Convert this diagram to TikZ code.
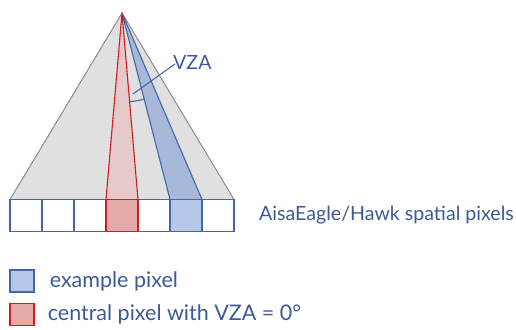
\documentclass[tikz,border=0pt]{standalone}
\usepackage{fontspec}
\setmainfont{Lato}
\usetikzlibrary{positioning}
\definecolor{ink}{HTML}{4466A6}
\definecolor{txt}{HTML}{3D5A96}
\definecolor{cone}{HTML}{E0E0E0}
\definecolor{conegray}{HTML}{858585}
\definecolor{nadir}{HTML}{D01C1C}
\definecolor{nadirwash}{HTML}{E6C9C9}
\definecolor{nadirpix}{HTML}{E4A9A9}
\definecolor{viewwash}{HTML}{A7B9D9}
\definecolor{viewpix}{HTML}{B6C8E8}
\tikzset{cell/.style={draw=ink,line width=1.2pt,minimum width=32pt,minimum height=32pt,inner sep=0pt,outer sep=0pt},
  key/.style={draw,line width=1.2pt,minimum width=24pt,minimum height=22pt,inner sep=0pt},
  lbl/.style={text=txt,font=\fontsize{19.6}{22}\selectfont,inner sep=0pt},
  keylbl/.style={lbl,font=\fontsize{21.5}{24}\selectfont},
  ray/.style={line width=1.1pt,line join=round}}
\begin{document}
\begin{tikzpicture}[x=1pt,y=-1pt]
\useasboundingbox (0,0) rectangle (516,329);
\coordinate (apex) at (122,13);
\foreach \i in {1,...,7} \coordinate (p\i) at ({26+32*(\i-1)},215.5);
% swath
\fill[cone] (apex) -- (10,199.5) -- (234,199.5) -- cycle;
\draw[conegray,line width=0.9pt] (10,199.5) -- (apex) -- (234,199.5);
\fill[viewwash] (apex) -- (170,199.5) -- (202,199.5) -- cycle;
\draw[ray,ink] (170,199.5) -- (apex) -- (202,199.5);
\fill[nadirwash] (apex) -- (106,199.5) -- (138,199.5) -- cycle;
\draw[ray,nadir] (106,199.5) -- (apex) -- (138,199.5);
% pixels
\foreach \i in {1,2,3,5,7} \node[cell] (c\i) at (p\i) {};
\node[cell,fill=viewpix] (c6) at (p6) {};
\node[cell,draw=nadir,fill=nadirpix] (c4) at (p4) {};
% angle
\draw[ink,line width=1.1pt] (apex) ++(85.1:89) arc[start angle=85.1,end angle=75.6,radius=89];
\coordinate (tip) at (133,94);
\node[lbl,anchor=south west] (vza) at (173,70) {VZA};
\draw[ink,line width=1.1pt] (tip) -- ([shift={(2,-6)}]vza.south west);
\node[lbl,anchor=west] (pixlbl) at (259,215) {AisaEagle/Hawk spatial pixels};
% legend
\node[key,draw=ink,fill=viewpix] (k1) at (22,281) {};
\node[key,draw=nadir,fill=nadirpix] (k2) at (22,314.5) {};
\node[keylbl,anchor=west,right=15pt of k1] (t1) {example pixel};
\node[keylbl,anchor=west,right=13pt of k2] (t2) {central pixel with VZA = 0°};
\end{tikzpicture}
\end{document}
